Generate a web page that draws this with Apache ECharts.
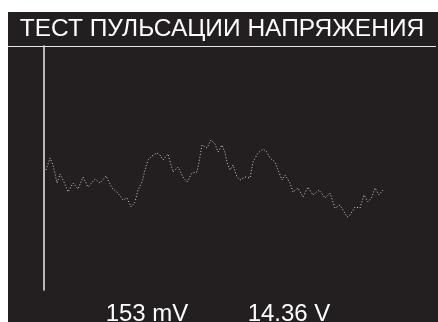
<!DOCTYPE html>
<html>
<head>
<meta charset="utf-8">
<script src="https://cdn.jsdelivr.net/npm/echarts@6/dist/echarts.min.js"></script>
<style>
  html, body { margin: 0; padding: 0; background: #fff; }
  #chart { width: 438px; height: 322px; }
</style>
</head>
<body>
<div id="chart"></div>
<script>
// ripple trace: sample index and ripple level (mV offset)
var sampleT = [2, 6, 9, 13, 16, 20, 24, 29, 34, 39,
  44, 51, 56, 62, 68, 73, 79, 83, 87, 91,
  94, 98, 101, 104, 108, 113, 116, 119, 124, 129,
  134, 139, 143, 148, 153, 155, 158, 163, 167, 171,
  174, 178, 181, 183, 186, 189, 193, 196, 201, 206,
  209, 214, 219, 223, 226, 231, 234, 238, 241, 246,
  249, 254, 259, 264, 269, 275, 281, 286, 291, 296,
  299, 303, 306, 311, 316, 320, 324, 328, 331, 335,
  339];
var rippleMv = [10, 22, 15, -3, 6, -2, -12, -3, -9, 3,
  -7, 1, -3, 4, -8, -12, -20, -18, -27, -22,
  -10, -2, 10, 20, 24, 27, 25, 20, 26, 8,
  13, 3, -2, 7, 8, 18, 35, 32, 40, 36,
  28, 35, 27, 18, 10, 15, 3, 0, 3, 2,
  18, 27, 31, 28, 22, 18, 10, 0, 5, -3,
  -12, -8, -17, -7, -15, -10, -18, -13, -28, -25,
  -30, -37, -35, -27, -28, -15, -22, -17, -8, -15,
  -10];
var titleText = "ТЕСТ ПУЛЬСАЦИИ НАПРЯЖЕНИЯ";
var readouts = ["153 mV", "14.36 V"];

var chart = echarts.init(document.getElementById("chart"));

var points = [];
for (var i = 0; i < sampleT.length; i++) {
  points.push([sampleT[i], rippleMv[i]]);
}

var option = {
  animation: false,
  backgroundColor: "#fff",
  grid: { left: 44, top: 46, width: 342, height: 244 },
  xAxis: {
    type: "value",
    min: 0,
    max: 342,
    show: false
  },
  yAxis: {
    type: "value",
    min: -110,
    max: 134,
    axisLine: { show: true, lineStyle: { color: "#e8e8e8", width: 1.5 } },
    axisTick: { show: false },
    axisLabel: { show: false },
    splitLine: { show: false }
  },
  graphic: [
    {
      type: "rect",
      z: -10,
      shape: { x: 8, y: 12, width: 430, height: 310 },
      style: { fill: "#231f20" }
    },
    {
      type: "line",
      shape: { x1: 8, y1: 46.5, x2: 436, y2: 46.5 },
      style: { stroke: "#e8e8e8", lineWidth: 1 }
    },
    {
      type: "text",
      x: 222,
      y: 29,
      style: {
        text: titleText,
        fill: "#fff",
        font: "24.5px 'Liberation Sans', Arial, sans-serif",
        align: "center",
        verticalAlign: "middle"
      }
    },
    {
      type: "text",
      x: 147,
      y: 314,
      style: {
        text: readouts[0],
        fill: "#fff",
        font: "24px 'Liberation Sans', Arial, sans-serif",
        align: "center",
        verticalAlign: "middle"
      }
    },
    {
      type: "text",
      x: 289,
      y: 314,
      style: {
        text: readouts[1],
        fill: "#fff",
        font: "24px 'Liberation Sans', Arial, sans-serif",
        align: "center",
        verticalAlign: "middle"
      }
    }
  ],
  series: [
    {
      type: "line",
      data: points,
      showSymbol: false,
      smooth: false,
      lineStyle: { color: "#d0d0d0", width: 1, type: [1, 2] }
    }
  ]
};

chart.setOption(option);
</script>
</body>
</html>
